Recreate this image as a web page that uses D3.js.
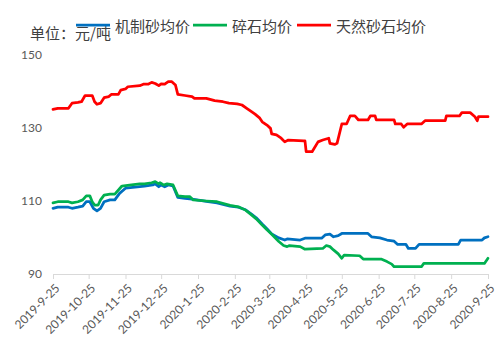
<!DOCTYPE html>
<html>
<head>
<meta charset="utf-8">
<script src="https://cdn.jsdelivr.net/npm/d3@7"></script>
<style>
  body { margin: 0; background: #fff; }
  svg { display: block; }
</style>
</head>
<body>
<div id="chart"></div>
<script>
// series: 机制砂均价 (blue)
var machineDates = ["2019-09-25","2019-09-29","2019-10-08","2019-10-11","2019-10-16","2019-10-20","2019-10-23","2019-10-26","2019-10-29","2019-11-01","2019-11-04","2019-11-07","2019-11-12","2019-11-16","2019-11-20","2019-11-25","2019-12-03","2019-12-11","2019-12-18","2019-12-20","2019-12-23","2019-12-25","2019-12-28","2019-12-31","2020-01-04","2020-01-08","2020-01-14","2020-01-20","2020-02-01","2020-02-10","2020-02-21","2020-02-28","2020-03-05","2020-03-10","2020-03-14","2020-03-19","2020-03-23","2020-03-27","2020-04-02","2020-04-07","2020-04-09","2020-04-20","2020-04-24","2020-05-08","2020-05-11","2020-05-15","2020-05-18","2020-05-22","2020-05-25","2020-06-16","2020-06-19","2020-06-26","2020-07-02","2020-07-08","2020-07-11","2020-07-18","2020-07-20","2020-07-26","2020-07-29","2020-08-31","2020-09-02","2020-09-20","2020-09-22","2020-09-25"];
var machineValues = [108.0,108.3,108.3,108.0,108.3,108.6,109.8,109.8,108.0,107.3,108.0,109.8,110.3,110.3,112.1,113.5,113.8,114.1,114.4,114.7,113.9,114.4,113.9,114.4,114.1,111.0,110.7,110.5,109.9,109.5,108.6,108.3,107.6,106.4,105.4,103.7,102.4,101.0,99.9,99.3,99.6,99.3,99.8,99.8,100.7,100.9,100.2,100.5,101.1,101.1,100.2,99.9,99.3,99.0,98.1,98.1,97.0,97.0,98.1,98.1,99.3,99.3,99.9,100.2];

// series: 碎石均价 (green)
var gravelDates = ["2019-09-25","2019-09-29","2019-10-08","2019-10-11","2019-10-16","2019-10-20","2019-10-23","2019-10-26","2019-10-28","2019-10-30","2019-11-02","2019-11-04","2019-11-07","2019-11-12","2019-11-16","2019-11-22","2019-11-30","2019-12-07","2019-12-11","2019-12-17","2019-12-20","2019-12-23","2019-12-24","2019-12-27","2019-12-30","2020-01-04","2020-01-08","2020-01-14","2020-01-18","2020-01-21","2020-02-01","2020-02-10","2020-02-21","2020-02-28","2020-03-05","2020-03-10","2020-03-14","2020-03-19","2020-03-23","2020-03-27","2020-04-02","2020-04-06","2020-04-09","2020-04-11","2020-04-20","2020-04-24","2020-05-09","2020-05-12","2020-05-15","2020-05-18","2020-05-22","2020-05-25","2020-05-27","2020-06-09","2020-06-12","2020-06-27","2020-07-02","2020-07-06","2020-07-08","2020-07-31","2020-08-02","2020-09-22","2020-09-25"];
var gravelValues = [109.5,109.8,109.8,109.5,109.8,110.3,111.4,111.4,109.8,108.9,108.9,110.3,111.6,111.9,111.9,114.1,114.4,114.7,114.7,115.0,115.3,114.7,115.0,114.4,114.7,114.4,111.4,111.2,111.2,110.3,110.0,109.8,108.8,108.4,107.5,106.2,105.1,103.4,102.1,100.9,98.9,97.8,97.5,97.8,97.5,96.8,97.0,97.8,97.5,96.6,95.5,94.3,95.2,95.0,94.1,94.1,93.4,92.7,92.0,92.0,92.9,92.9,94.3];

// series: 天然砂石均价 (red)
var sandDates = ["2019-09-25","2019-09-29","2019-10-08","2019-10-11","2019-10-16","2019-10-19","2019-10-22","2019-10-28","2019-10-30","2019-11-01","2019-11-04","2019-11-07","2019-11-11","2019-11-13","2019-11-19","2019-11-21","2019-11-25","2019-11-27","2019-12-07","2019-12-10","2019-12-14","2019-12-17","2019-12-20","2019-12-23","2019-12-25","2019-12-28","2019-12-31","2020-01-03","2020-01-06","2020-01-08","2020-01-14","2020-01-20","2020-01-22","2020-02-01","2020-02-08","2020-02-15","2020-02-20","2020-02-27","2020-03-02","2020-03-06","2020-03-10","2020-03-13","2020-03-17","2020-03-19","2020-03-23","2020-03-26","2020-03-27","2020-03-31","2020-04-04","2020-04-07","2020-04-10","2020-04-23","2020-04-24","2020-04-25","2020-04-30","2020-05-05","2020-05-09","2020-05-14","2020-05-15","2020-05-19","2020-05-21","2020-05-25","2020-05-29","2020-06-01","2020-06-05","2020-06-08","2020-06-16","2020-06-18","2020-06-22","2020-06-23","2020-07-08","2020-07-09","2020-07-14","2020-07-16","2020-07-19","2020-07-31","2020-08-03","2020-08-20","2020-08-21","2020-09-01","2020-09-03","2020-09-10","2020-09-14","2020-09-16","2020-09-17","2020-09-25"];
var sandValues = [135.1,135.4,135.4,136.8,137.0,137.2,138.9,138.9,137.2,136.5,136.8,138.3,138.6,139.2,139.2,140.4,140.7,141.3,141.6,142.0,142.0,142.5,142.2,141.6,142.1,142.0,142.7,142.7,141.8,139.2,138.9,138.6,138.1,138.1,137.5,137.2,136.8,136.6,136.3,135.4,134.5,133.8,132.7,131.7,130.8,129.9,128.4,128.1,127.2,126.2,126.7,126.5,126.5,123.5,123.5,126.2,126.7,127.2,125.8,125.5,125.8,131.1,131.1,133.3,133.3,132.2,132.2,133.3,133.3,132.2,132.2,131.1,131.1,130.2,131.1,131.1,132.0,132.0,133.3,133.3,134.2,134.2,133.1,132.0,133.1,133.1];

var seriesNames = ["机制砂均价", "碎石均价", "天然砂石均价"];
var seriesColors = ["#0070C0", "#00B050", "#FF0000"];
var xTickDates = ["2019-09-25","2019-10-25","2019-11-25","2019-12-25","2020-01-25","2020-02-25","2020-03-25","2020-04-25","2020-05-25","2020-06-25","2020-07-25","2020-08-25","2020-09-25"];
var yTicks = [90, 110, 130, 150];
var unitLabel = "单位：元/吨";

width = 503;
height = 354;
margin = { top: 55, right: 15, bottom: 80, left: 53 };

var parse = d3.timeParse("%Y-%m-%d");
var fmt = d3.timeFormat("%Y-%-m-%-d");

var series = [
  { dates: machineDates, values: machineValues },
  { dates: gravelDates, values: gravelValues },
  { dates: sandDates, values: sandValues }
].map(function (s, i) {
  return {
    name: seriesNames[i],
    color: seriesColors[i],
    points: s.dates.map(function (d, j) { return { date: parse(d), value: s.values[j] }; })
  };
});

x = d3.scaleTime()
  .domain([parse(xTickDates[0]), parse(xTickDates[xTickDates.length - 1])])
  .range([margin.left, 488]);

y = d3.scaleLinear()
  .domain([90, 150])
  .range([274, 55]);

var svg = d3.select('#chart')
  .append('svg')
  .attr('width', width)
  .attr('height', height);

// x axis
var xAxis = svg.append('g')
  .attr('transform', 'translate(0,274)')
  .call(d3.axisBottom(x).tickValues(xTickDates.map(parse)).tickFormat(fmt).tickSizeOuter(0).tickSize(5));
xAxis.select('.domain').attr('stroke', '#d9d9d9').attr('stroke-width', 1);
xAxis.selectAll('.tick line').attr('stroke', '#d9d9d9');
xAxis.selectAll('.tick text')
  .attr('font-family', 'Lato, sans-serif')
  .attr('font-size', 12)
  .attr('fill', '#595959')
  .attr('text-anchor', 'end')
  .attr('dy', '0.35em')
  .attr('y', 0)
  .attr('transform', 'translate(4,12) rotate(-45)');

// y labels (no axis line)
svg.append('g').selectAll('text')
  .data(yTicks)
  .join('text')
  .attr('x', 42)
  .attr('y', function (d) { return y(d); })
  .attr('dy', '0.35em')
  .attr('text-anchor', 'end')
  .attr('font-family', 'Lato, sans-serif')
  .attr('font-size', 12)
  .attr('fill', '#595959')
  .text(function (d) { return d; });

var line = d3.line()
  .x(function (d) { return x(d.date); })
  .y(function (d) { return y(d.value); });

svg.append('g').selectAll('path')
  .data(series)
  .join('path')
  .attr('fill', 'none')
  .attr('stroke', function (d) { return d.color; })
  .attr('stroke-width', 2.75)
  .attr('stroke-linejoin', 'round')
  .attr('stroke-linecap', 'round')
  .attr('d', function (d) { return line(d.points); });

// unit label
svg.append('text')
  .attr('x', 30)
  .attr('y', 39)
  .attr('font-family', '"Noto Sans CJK SC", sans-serif')
  .attr('font-size', 15)
  .attr('fill', '#404040')
  .text(unitLabel);

// legend
var legendX = [76, 193, 297];
var legend = svg.append('g').selectAll('g')
  .data(series)
  .join('g')
  .attr('transform', function (d, i) { return 'translate(' + legendX[i] + ',25)'; });
legend.append('line')
  .attr('x1', 0).attr('x2', 34)
  .attr('stroke', function (d) { return d.color; })
  .attr('stroke-width', 2.75);
legend.append('text')
  .attr('x', 39)
  .attr('y', 7)
  .attr('font-family', '"Noto Sans CJK SC", sans-serif')
  .attr('font-size', 15)
  .attr('fill', '#404040')
  .text(function (d) { return d.name; });
</script>
</body>
</html>
